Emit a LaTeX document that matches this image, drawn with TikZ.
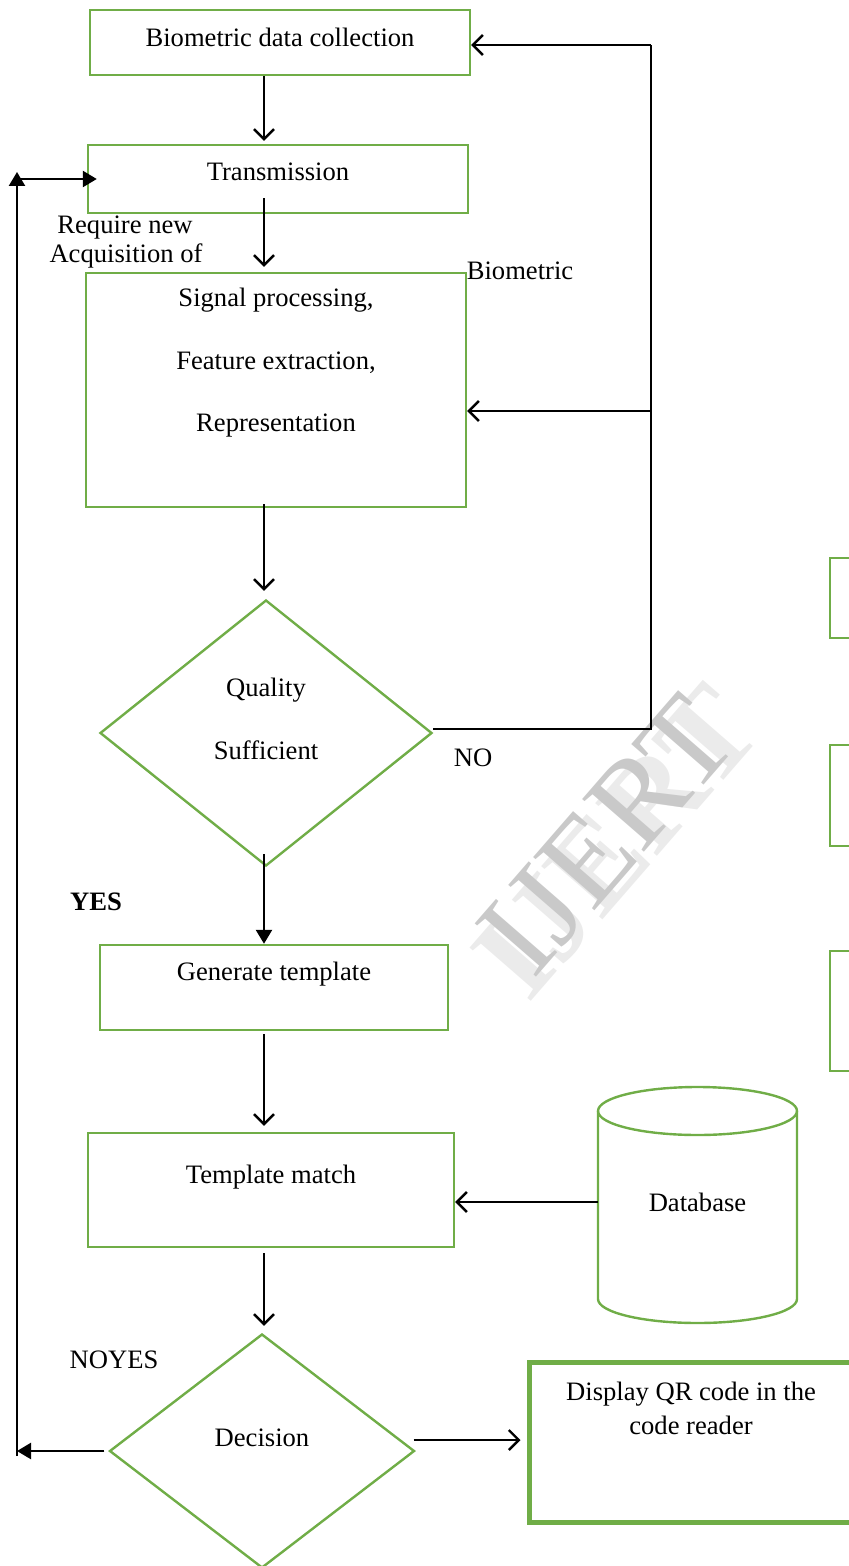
\documentclass[tikz,border=0pt]{standalone}
\usepackage{fontspec}
\setmainfont{Liberation Serif}
\usetikzlibrary{shapes.geometric,arrows.meta,positioning}
\definecolor{boxgreen}{HTML}{70AD47}

\begin{document}
\begin{tikzpicture}[x=0.5pt,y=-0.5pt,
  font=\fontsize{13.3}{15.3}\selectfont,
  box/.style={draw=boxgreen,line width=1.2pt,rectangle,inner sep=0pt},
  choice/.style={draw=boxgreen,line width=1.2pt,diamond,inner sep=0pt},
  txt/.style={inner sep=0pt,align=center},
  openarr/.style={draw=black,line width=1.2pt,-{Straight Barb[length=5pt,width=10pt]}},
  fillarr/.style={draw=black,line width=1.2pt,-{Triangle[length=7pt,width=8pt]}},
  line/.style={draw=black,line width=1.2pt}]
\useasboundingbox (0,0) rectangle (848,1566);
% Watermark
\node[text=gray!16,rotate=49,font=\fontsize{62}{62}\selectfont\bfseries] (markshade) at (617,842) {IJERT};
\node[text=gray!42,rotate=49,font=\fontsize{62}{62}\selectfont] (mark) at (607,835) {IJERT};
% Draw boxes
\node[box,minimum width=190pt,minimum height=32.5pt] (collect) at (280,42.5) {};
\node[box,minimum width=190pt,minimum height=34pt] (trans) at (278,179) {};
\node[box,minimum width=190pt,minimum height=117pt] (proc) at (276,390) {};
\node[choice,minimum width=166pt,minimum height=133pt] (quality) at (266,733) {};
\node[box,minimum width=174pt,minimum height=42.5pt] (gen) at (274,987.5) {};
\node[box,minimum width=183pt,minimum height=57pt] (match) at (271,1190) {};
\node[choice,minimum width=152.5pt,minimum height=117pt] (decision) at (262,1451) {};
\node[box,line width=2.5pt,minimum width=170.5pt,minimum height=80pt] (display) at (699.5,1442) {};
% Boxes cut off at the right edge
\foreach \ytop/\hgt [count=\i] in {557/40, 744/50.5, 950/60}
  \node[box,anchor=north west,minimum width=25pt,minimum height=\hgt pt] (side\i) at (829,\ytop) {};
% Draw database
\draw[boxgreen,line width=1.2pt] (697.5,1111) ellipse [x radius=49.75pt, y radius=12pt];
\draw[boxgreen,line width=1.2pt] (598,1111) -- (598,1299)
  arc [start angle=180, end angle=360, x radius=49.75pt, y radius=12pt] -- (797,1111);
\node[txt,minimum width=99.5pt] (db) at (697.5,1202) {Database};
% Texts in the boxes
\node[txt] (collecttext) at (280,37) {Biometric data collection};
\node[txt] (transtext) at (278,172) {Transmission};
\node[txt] (proctext) at (276,363) {Signal processing,\\[16pt] Feature extraction,\\[16pt] Representation};
\node[txt] (qualtext) at (266,719) {Quality\\[16pt] Sufficient};
\node[txt] (gentext) at (274,974) {Generate template};
\node[txt] (matchtext) at (271,1177) {Template match};
\node[txt] (dectext) at (262,1438) {Decision};
\node[txt] (disptext) at (691,1408) {Display QR code in the\\[1.7pt] code reader};
% Loose labels
\node[txt] (reqnew) at (125,228) {Require new};
\node[txt] (acq) at (126,256) {Acquisition of};
\node[txt] (bio) at (520,271) {Biometric};
\node[txt] (no) at (473,758) {NO};
\node[txt,font=\fontsize{13.3}{15.3}\selectfont\bfseries] (yes) at (96,902) {YES};
\node[txt] (noyes) at (114,1360) {NOYES};
% Main flow
\draw[openarr] ([xshift=-8pt]collect.south) -- ([xshift=-7pt,yshift=1.5pt]trans.north);
\draw[openarr] ([xshift=-7pt,yshift=8pt]trans.south) -- ([xshift=-6pt,yshift=2.5pt]proc.north);
\draw[openarr] ([xshift=-6pt,yshift=2pt]proc.south) -- ([xshift=-1pt,yshift=4pt]quality.north);
\draw[fillarr] ([xshift=-1pt,yshift=6.5pt]quality.south) -- ([xshift=-5pt]gen.north);
\draw[openarr] ([xshift=-5pt,yshift=-1.5pt]gen.south) -- ([xshift=-3.5pt,yshift=3pt]match.north);
\draw[openarr] ([xshift=-3.5pt,yshift=-2.5pt]match.south) -- ([xshift=1pt,yshift=3.5pt]decision.north);
\draw[openarr] (db.west) -- (match.east |- db.west);
\draw[openarr] ([xshift=-1pt,yshift=5.5pt]decision.east) -- ([xshift=-3pt,yshift=5.5pt]display.west |- decision.east);
% Quality not sufficient
\coordinate (fbtop) at (651,45);
\coordinate (fbmid) at (651,411);
\draw[line] ([yshift=2pt]quality.east) -| (fbtop);
\draw[openarr] (fbtop) -- (collect.east |- fbtop);
\draw[openarr] (fbmid) -- (proc.east |- fbmid);
% Return path on the left
\coordinate (retbot) at (17,1456);
\coordinate (rettop) at (17,172);
\coordinate (retmid) at (17,179);
\draw[fillarr] ([xshift=-2pt]decision.west) -- (decision.west -| retbot);
\draw[fillarr] (retbot) -- (rettop);
\draw[fillarr] (retmid) -- ([xshift=5pt]trans.west);
\end{tikzpicture}
\end{document}
